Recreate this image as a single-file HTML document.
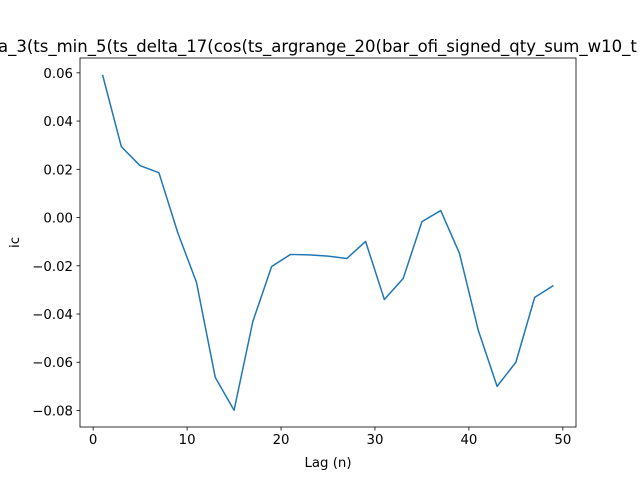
<!DOCTYPE html>
<html><head><meta charset="utf-8"><style>
body{margin:0;background:#fff;}
svg{display:block;font-family:"DejaVu Sans","Liberation Sans",sans-serif;}
</style></head><body>
<svg id="chart" width="640" height="480" viewBox="0 0 640 480">
<rect width="640" height="480" fill="#fff"/>
<text x="-2" y="52" font-size="16.5" fill="#000">a_3(ts_min_5(ts_delta_17(cos(ts_argrange_20(bar_ofi_signed_qty_sum_w10_t</text>
<g id="plot"></g>
<text x="328" y="467" font-size="13.3" text-anchor="middle">Lag (n)</text>
<text transform="translate(19,242.5) rotate(-90)" font-size="13.3" text-anchor="middle">ic</text>
</svg>
<script>
const lags=[1,3,5,7,9,11,13,15,17,19,21,23,25,27,29,31,33,35,37,39,41,43,45,47,49];
const icValues=[0.0592,0.0294,0.0215,0.0186,-0.0062,-0.0269,-0.0663,-0.0799,-0.0431,-0.0203,-0.0153,-0.0155,-0.0160,-0.0170,-0.0099,-0.0340,-0.0253,-0.0017,0.0029,-0.0149,-0.0468,-0.0700,-0.0600,-0.0331,-0.0282];
const xTicks=[0,10,20,30,40,50];
const yTicks=[-0.08,-0.06,-0.04,-0.02,0.00,0.02,0.04,0.06];
const L=80,R=576,T=58,B=427;
const xmin0=Math.min(...lags),xmax0=Math.max(...lags),xm=(xmax0-xmin0)*0.05;
const ymin0=Math.min(...icValues),ymax0=Math.max(...icValues),ym=(ymax0-ymin0)*0.05;
const xs=v=>L+(v-(xmin0-xm))/((xmax0+xm)-(xmin0-xm))*(R-L);
const ys=v=>B-(v-(ymin0-ym))/((ymax0+ym)-(ymin0-ym))*(B-T);
const NS="http://www.w3.org/2000/svg";
const g=document.getElementById('plot');
function mk(t,a){const e=document.createElementNS(NS,t);for(const k in a)e.setAttribute(k,a[k]);g.appendChild(e);return e;}
const line=mk('polyline',{points:lags.map((x,i)=>xs(x)+','+ys(icValues[i])).join(' '),fill:'none',stroke:'#1f77b4','stroke-width':1.5,'stroke-linejoin':'round'});


xTicks.forEach(v=>{const x=xs(v);
 const t=mk('line',{x1:x,x2:x,y1:B,y2:B+3.5,stroke:'#000','stroke-width':0.8});
 
 
 const l=mk('text',{x:x,y:B+17,'font-size':13.3,'text-anchor':'middle'});l.textContent=v;
 
 });
yTicks.forEach(v=>{const y=ys(v);
 const t=mk('line',{x1:L-3.5,x2:L,y1:y,y2:y,stroke:'#000','stroke-width':0.8});
 
 
 const l=mk('text',{x:L-7,y:y+5,'font-size':13.3,'text-anchor':'end'});l.textContent=v.toFixed(2).replace('-','\u2212');
 
 });
const fr=mk('rect',{x:L,y:T,width:R-L,height:B-T,fill:'none',stroke:'#000','stroke-width':0.8});


</script>
</body></html>
